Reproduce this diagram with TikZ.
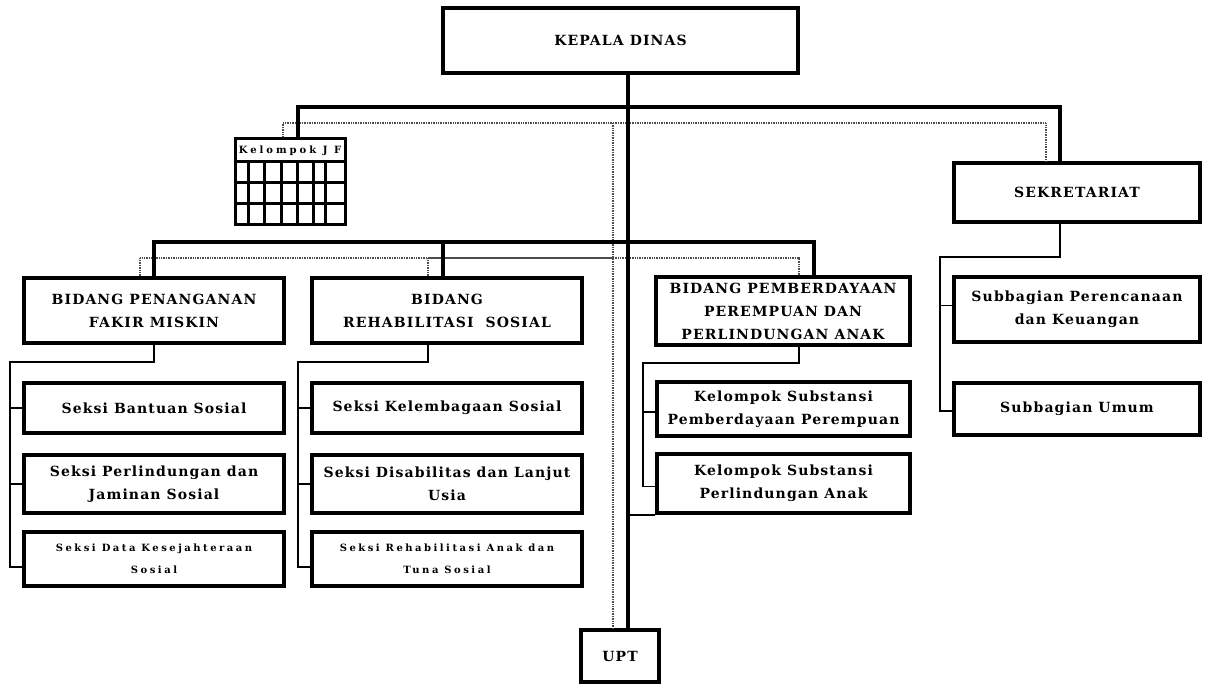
\documentclass[tikz,border=0pt]{standalone}
\usepackage{fontspec}
\setmainfont{DejaVu Serif}
\newcommand{\plain}{\fontsize{14}{23}\selectfont\addfontfeatures{LetterSpace=8}}
\newcommand{\spaced}{\fontsize{10}{22}\selectfont\addfontfeatures{LetterSpace=25}}
\begin{document}
\begin{tikzpicture}[x=1pt,y=-1pt,
		every node/.style={font=\bfseries\plain,align=center,inner sep=0pt},
		unit/.style={draw,line width=3.5pt,minimum width=#1},
		trunk/.style={line width=3.5pt},
		branch/.style={line width=1.6pt},
		dots/.style={black!70,line width=2pt,dash pattern=on 1pt off 0.7pt}]
		\path[fill=white,use as bounding box] (0,0) rectangle (1209,686);
		\node[unit=355,minimum height=65] (kd) at (620.5,40.5) {KEPALA DINAS};
		\node[unit=78,minimum height=52] (upt) at (620,656) {UPT};
		\node[draw,line width=3pt,minimum width=110,minimum height=86] (jf) at (290,181) {};
		\node[font=\bfseries\spaced\addfontfeatures{LetterSpace=30}] (jft) at (290,150.5) {Kelompok J F};
		\foreach \r in {25,46,67} \draw[line width=2.5pt] ([yshift=-\r pt]jf.north west) -- ([yshift=-\r pt]jf.north east);
		\foreach \c in {15,31,48,64,80,92} \draw[line width=2.5pt] ([xshift=\c pt,yshift=-25pt]jf.north west) -- ([xshift=\c pt]jf.south west);
		\node[unit=246,minimum height=59] (sek) at (1077,192.5) {SEKRETARIAT};
		\node[unit=260,minimum height=65] (bfm) at (154,310.5) {BIDANG PENANGANAN\\FAKIR MISKIN};
		\node[unit=270,minimum height=65] (brs) at (447,310.5) {BIDANG\\REHABILITASI\ \ SOSIAL};
		\node[unit=254,minimum height=68] (bpp) at (783,311) {BIDANG PEMBERDAYAAN\\PEREMPUAN DAN\\PERLINDUNGAN ANAK};
		\node[unit=246,minimum height=65] (sub1) at (1077,309.5) {Subbagian Perencanaan\\dan Keuangan};
		\node[unit=246,minimum height=52] (sub2) at (1077,409) {Subbagian Umum};
		\node[unit=260,minimum height=50] (s11) at (154,408) {Seksi Bantuan Sosial};
		\node[unit=260,minimum height=58] (s12) at (154,484) {Seksi Perlindungan dan\\Jaminan Sosial};
		\node[unit=260,minimum height=54,font=\bfseries\spaced] (s13) at (154,559) {Seksi Data Kesejahteraan\\Sosial};
		\node[unit=270,minimum height=50] (s21) at (447,408) {Seksi Kelembagaan Sosial};
		\node[unit=270,minimum height=58] (s22) at (447,484) {Seksi Disabilitas dan Lanjut\\Usia};
		\node[unit=270,minimum height=54,font=\bfseries\spaced] (s23) at (447,559) {Seksi Rehabilitasi Anak dan\\Tuna Sosial};
		\node[unit=253,minimum height=54] (k1) at (783.5,409) {Kelompok Substansi\\Pemberdayaan Perempuan};
		\node[unit=253,minimum height=59] (k2) at (783.5,483.5) {Kelompok Substansi\\Perlindungan Anak};
		\coordinate (h1) at (628,107);
		\coordinate (d1) at (613,123);
		\coordinate (h2) at (628,242);
		\coordinate (d2) at (613,258);
		\coordinate (c1) at (10,362);
		\coordinate (c2) at (298,362);
		\coordinate (c3) at (643,363);
		\coordinate (c4) at (940,257);
		\draw[dots] ([xshift=-7pt]jf.north) |- (d1) -| ([xshift=-31pt]sek.north);
		\draw[dots] (d1) -- ([xshift=-7pt]upt.north);
		\draw[dots] ([xshift=-14pt]bfm.north) |- (d2) -| ([xshift=16pt]bpp.north);
		\draw[dots] ([xshift=-19pt]brs.north) |- (d2);
		\draw[trunk] ([xshift=7.5pt]kd.south) -- ([xshift=8pt]upt.north);
		\draw[trunk] ([xshift=8pt]jf.north) |- (h1) -| ([xshift=-17pt]sek.north);
		\draw[trunk] (bfm.north) |- (h2) -| ([xshift=31pt]bpp.north);
		\draw[trunk] ([xshift=-4pt]brs.north) |- (h2);
		\draw[branch] (bfm.south) |- (c1) |- ([yshift=-8pt]s13.west);
		\draw[branch] (c1) |- (s11.west);
		\draw[branch] (c1) |- (s12.west);
		\draw[branch] ([xshift=-19pt]brs.south) |- (c2) |- ([yshift=-8pt]s23.west);
		\draw[branch] (c2) |- (s21.west);
		\draw[branch] (c2) |- (s22.west);
		\draw[branch] ([xshift=16pt]bpp.south) |- (c3) |- ([yshift=-3pt]k2.west);
		\draw[branch] (c3) |- ([yshift=-3pt]k1.west);
		\draw[branch] (k2.south west) -- (k2.south west -| h1);
		\draw[branch] ([xshift=-17pt]sek.south) |- (c4) |- ([yshift=-2pt]sub2.west);
		\draw[branch] (c4) |- ([yshift=4pt]sub1.west);
\end{tikzpicture}
\end{document}
